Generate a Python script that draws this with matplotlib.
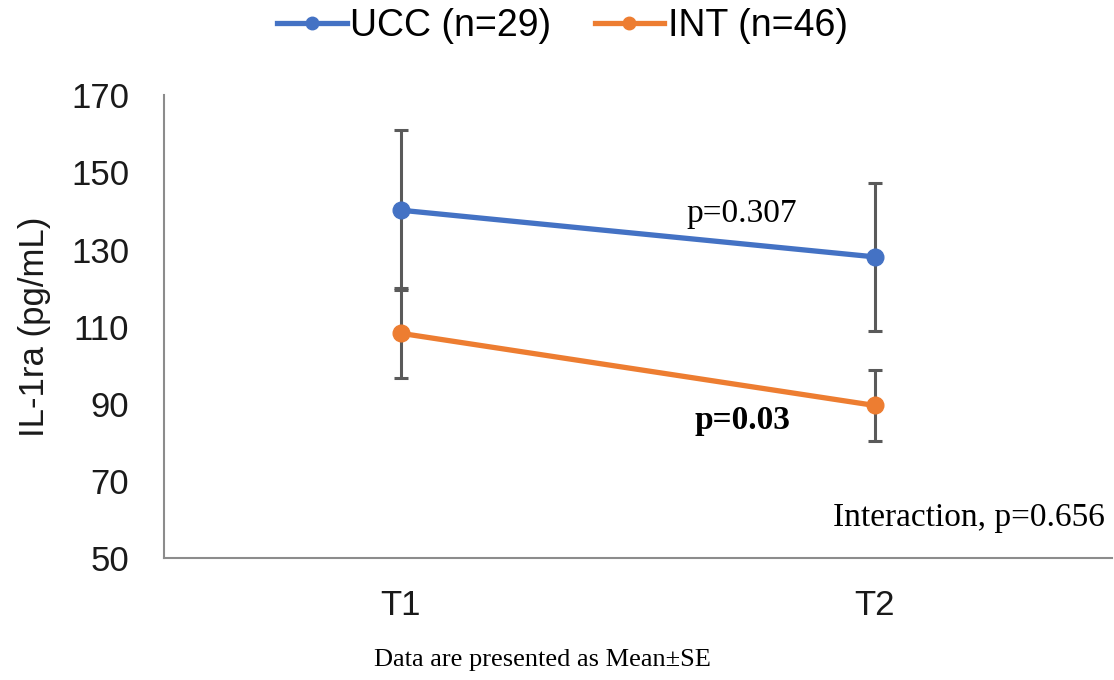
import matplotlib.pyplot as plt

# data
timepoints = ["T1", "T2"]
ucc_mean = [140.2, 128.1]
ucc_se = [20.7, 19.2]
int_mean = [108.3, 89.6]
int_se = [11.7, 9.3]

plt.rcParams['font.family'] = ['Liberation Sans', 'DejaVu Sans']

fig = plt.figure(figsize=(11.14, 6.8), dpi=100)
ax = fig.add_axes([0.147, 0.179, 0.851, 0.681])

x = list(range(len(timepoints)))
blue = "#4472C4"
orange = "#ED7D31"

ax.errorbar(x, ucc_mean, yerr=ucc_se, fmt="none", ecolor="#5a5a5a",
            elinewidth=2.2, capsize=5, capthick=2.2, zorder=1)
ax.errorbar(x, int_mean, yerr=int_se, fmt="none", ecolor="#5a5a5a",
            elinewidth=2.2, capsize=5, capthick=2.2, zorder=1)
ax.plot(x, ucc_mean, color=blue, lw=3.8, marker="o", ms=12,
        label="UCC (n=29)", zorder=3)
ax.plot(x, int_mean, color=orange, lw=3.8, marker="o", ms=12,
        label="INT (n=46)", zorder=3)

ax.set_xlim(-0.5, 1.5)
ax.set_ylim(50, 170)
ax.set_yticks(range(50, 171, 20))
ax.set_xticks(x)
ax.set_xticklabels(timepoints)
ax.tick_params(axis="y", length=0, pad=25, labelsize=25, colors="#1a1a1a")
ax.tick_params(axis="x", length=0, pad=22, labelsize=25, colors="#1a1a1a")
ax.set_ylabel("IL-1ra (pg/mL)", fontsize=25, color="#1a1a1a", labelpad=14)

for s in ["top", "right"]:
    ax.spines[s].set_visible(False)
for s in ["left", "bottom"]:
    ax.spines[s].set_color("#8c8c8c")
    ax.spines[s].set_linewidth(1.5)

serif = ['Liberation Serif', 'DejaVu Serif']
ax.text(0.72, 139.4, "p=0.307", fontsize=24, family=serif, ha="center", va="center")
ax.text(0.72, 85.8, "p=0.03", fontsize=24, family=serif, weight="bold",
        ha="center", va="center")
ax.text(0.993, 60.6, "Interaction, p=0.656", fontsize=24, family=serif,
        ha="right", va="center", transform=ax.get_yaxis_transform())

leg = fig.legend(loc="center", bbox_to_anchor=(0.505, 0.962), ncol=2,
                 frameon=False, fontsize=27, handlelength=1.85,
                 handletextpad=0.1, columnspacing=1.15, markerscale=0.75)

fig.text(0.487, 0.029, "Data are presented as Mean\u00b1SE", fontsize=19,
         family=serif, ha="center", va="center")

fig.savefig("out.png", dpi=100)
